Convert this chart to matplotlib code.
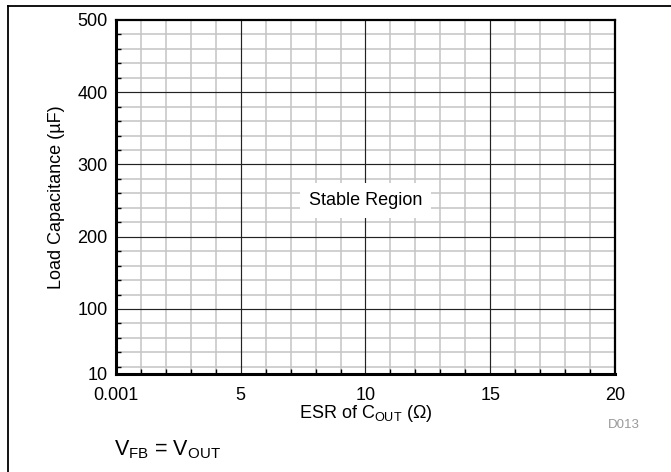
import matplotlib
matplotlib.use("Agg")
import matplotlib.pyplot as plt
from matplotlib.lines import Line2D
import numpy as np

plt.rcParams['font.family'] = ['Liberation Sans', 'DejaVu Sans']
plt.rcParams['mathtext.fontset'] = 'custom'
plt.rcParams['mathtext.rm'] = 'Liberation Sans'
plt.rcParams['mathtext.it'] = 'Liberation Sans:italic'
plt.rcParams['mathtext.bf'] = 'Liberation Sans:bold'

# Data / ticks
x_limits = [0.001, 20]
y_limits = [10, 500]
x_major = [0.001, 5, 10, 15, 20]
x_major_labels = ["0.001", "5", "10", "15", "20"]
x_minor = [1, 2, 3, 4, 6, 7, 8, 9, 11, 12, 13, 14, 16, 17, 18, 19]
y_major = [10, 100, 200, 300, 400, 500]
y_major_labels = ["10", "100", "200", "300", "400", "500"]
y_minor = [20, 40, 60, 80, 120, 140, 160, 180, 220, 240, 260, 280,
           320, 340, 360, 380, 420, 440, 460, 480]
region_label = "Stable Region"
region_pos = (10, 250)

W, H = 671, 472
fig = plt.figure(figsize=(W / 100, H / 100), dpi=100)
ax = fig.add_axes([116 / W, 1 - 374 / H, (615 - 116) / W, (374 - 20) / H])

ax.set_xlim(*x_limits)
ax.set_ylim(*y_limits)
ax.set_xticks(x_major)
ax.set_xticklabels(x_major_labels)
ax.set_yticks(y_major)
ax.set_yticklabels(y_major_labels)
ax.set_xticks(x_minor, minor=True)
ax.set_yticks(y_minor, minor=True)

# grid lines
for xv in x_minor:
    ax.axvline(xv, color='#c4c4c4', lw=1.1, zorder=1)
for yv in y_minor:
    ax.axhline(yv, color='#c4c4c4', lw=1.1, zorder=1)
for xv in x_major[1:-1]:
    ax.axvline(xv, color='#222222', lw=0.85, zorder=2)
for yv in y_major[1:-1]:
    ax.axhline(yv, color='#222222', lw=0.85, zorder=2)

for s in ax.spines.values():
    s.set_linewidth(1.6)
    s.set_color('black')
    s.set_zorder(5)
ax.spines['left'].set_linewidth(2.2)
ax.spines['bottom'].set_linewidth(2.2)

ax.tick_params(which='both', direction='in', color='black', width=1,
               top=False, right=False)
ax.tick_params(which='major', length=0, labelsize=13)
ax.tick_params(axis='y', which='major', pad=6)
ax.tick_params(axis='x', which='major', pad=9)
ax.tick_params(which='minor', length=3.5)

ax.set_xlabel(r"ESR of C$_{\mathrm{OUT}}$ ($\Omega$)", fontsize=13, labelpad=0)
ax.set_ylabel("Load Capacitance (µF)", fontsize=13, labelpad=9)

ax.text(region_pos[0], region_pos[1], region_label, fontsize=13,
        ha='center', va='center', zorder=6,
        bbox=dict(boxstyle='square,pad=0.5', fc='white', ec='none'))

fig.text(167 / W, 1 - 450 / H, r"V$_{\mathrm{FB}}$ = V$_{\mathrm{OUT}}$",
         fontsize=15.5, ha='center', va='center')
fig.text(624 / W, 1 - 425 / H, "D013", fontsize=9.5, color='#999999',
         ha='center', va='center')

# outer frame lines
fig.add_artist(Line2D([8 / W, 1], [1 - 6 / H, 1 - 6 / H], color='black', lw=1.3,
                      transform=fig.transFigure))
fig.add_artist(Line2D([8 / W, 8 / W], [1 - 6 / H, 0], color='black', lw=1.3,
                      transform=fig.transFigure))

fig.savefig("out.png", dpi=100)
